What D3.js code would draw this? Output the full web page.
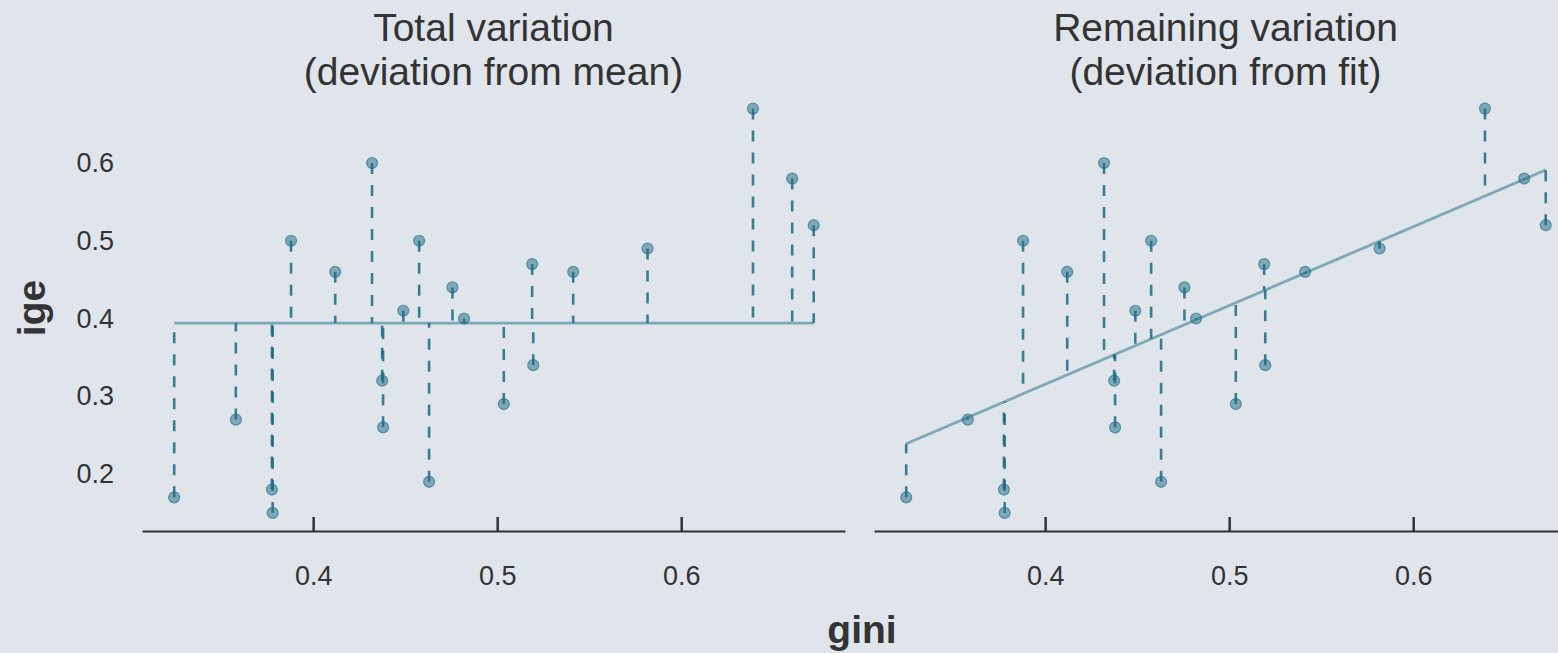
<!DOCTYPE html>
<html>
<head>
<meta charset="utf-8">
<script src="https://cdn.jsdelivr.net/npm/d3@7"></script>
<style>
  body { margin: 0; background: #dfe5eb; }
  svg { display: block; font-family: "Liberation Sans", Arial, sans-serif; }
</style>
</head>
<body>
<script>
// data
const gini = [0.3245, 0.358, 0.3776, 0.378, 0.388, 0.412, 0.432, 0.4375, 0.438, 0.449, 0.4576,
              0.463, 0.4757, 0.482, 0.5036, 0.519, 0.5196, 0.5413, 0.5817, 0.639, 0.6603, 0.672];
const ige  = [0.17, 0.27, 0.18, 0.15, 0.50, 0.46, 0.60, 0.32, 0.26, 0.41, 0.50,
              0.19, 0.44, 0.40, 0.29, 0.47, 0.34, 0.46, 0.49, 0.67, 0.58, 0.52];
const xTicks = [0.4, 0.5, 0.6];
const yTicks = [0.2, 0.3, 0.4, 0.5, 0.6];
const titles = [["Total variation", "(deviation from mean)"],
                ["Remaining variation", "(deviation from fit)"]];

const WIDTH = 1558, HEIGHT = 653;
const col = "#1d6a84";
const FONT = "Liberation Sans, Arial, sans-serif";

const data = gini.map((g, i) => ({ x: g, y: ige[i] }));
const meanY = d3.mean(ige);
const meanX = d3.mean(gini);
const slope = d3.sum(data, d => (d.x - meanX) * (d.y - meanY)) / d3.sum(data, d => (d.x - meanX) ** 2);
const icpt = meanY - slope * meanX;
const fit = x => icpt + slope * x;

const svg = d3.select("body").append("svg")
  .attr("width", WIDTH)
  .attr("height", HEIGHT);

svg.append("rect").attr("width", WIDTH).attr("height", HEIGHT).attr("fill", "#dfe5eb");

const y = d3.scaleLinear().domain([0.2, 0.6]).range([474, 163]);

const panels = [
  { left: 142, right: 845, pred: () => meanY },
  { left: 874, right: 1577, pred: fit }
];

panels.forEach((p, k) => {
  const x = d3.scaleLinear().domain([0.307, 0.689]).range([p.left, p.right]);
  const g = svg.append("g");

  // titles
  const cx = (p.left + p.right) / 2;
  g.append("text").attr("x", cx).attr("y", 41).attr("text-anchor", "middle")
    .attr("font-size", 39).attr("fill", "#333").text(titles[k][0]);
  g.append("text").attr("x", cx).attr("y", 85).attr("text-anchor", "middle")
    .attr("font-size", 39).attr("fill", "#333").text(titles[k][1]);

  // x axis
  const ax = g.append("g").attr("transform", "translate(0,531)")
    .call(d3.axisBottom(x).tickValues(xTicks).tickFormat(d3.format(".1f"))
      .tickSizeInner(-14).tickSizeOuter(0).tickPadding(35));
  ax.select(".domain").attr("stroke", "#333").attr("stroke-width", 2);
  ax.selectAll(".tick line").attr("stroke", "#333").attr("stroke-width", 2.5);
  ax.selectAll(".tick text").attr("font-size", 27).attr("fill", "#333").attr("font-family", FONT);

  // reference line (mean or fit)
  const xs = d3.extent(gini);
  g.append("line")
    .attr("x1", x(xs[0])).attr("x2", x(xs[1]))
    .attr("y1", y(p.pred(xs[0]))).attr("y2", y(p.pred(xs[1])))
    .attr("stroke", col).attr("stroke-opacity", 0.5).attr("stroke-width", 2.8);

  // residual segments
  g.selectAll("line.res").data(data).enter().append("line")
    .attr("class", "res")
    .attr("x1", d => x(d.x)).attr("x2", d => x(d.x))
    .attr("y1", d => y(d.y)).attr("y2", d => y(p.pred(d.x)))
    .attr("stroke", col).attr("stroke-opacity", 0.85).attr("stroke-width", 2.6)
    .attr("stroke-dasharray", "11,11");

  // points
  g.selectAll("circle").data(data).enter().append("circle")
    .attr("cx", d => x(d.x)).attr("cy", d => y(d.y)).attr("r", 5.5)
    .attr("fill", col).attr("fill-opacity", 0.5)
    .attr("stroke", col).attr("stroke-opacity", 0.6).attr("stroke-width", 1.2);
});

// y axis labels (left panel only)
const ay = svg.append("g").attr("transform", "translate(123,0)")
  .call(d3.axisLeft(y).tickValues(yTicks).tickFormat(d3.format(".1f")).tickSize(0).tickPadding(9));
ay.select(".domain").remove();
ay.selectAll(".tick text").attr("font-size", 27).attr("fill", "#333").attr("font-family", FONT);

// axis titles
svg.append("text").attr("x", 862).attr("y", 643).attr("text-anchor", "middle")
  .attr("font-size", 39).attr("font-weight", "bold").attr("fill", "#333").text("gini");
svg.append("text").attr("transform", "translate(45,308) rotate(-90)").attr("text-anchor", "middle")
  .attr("font-size", 39).attr("font-weight", "bold").attr("fill", "#333").text("ige");
</script>
</body>
</html>
